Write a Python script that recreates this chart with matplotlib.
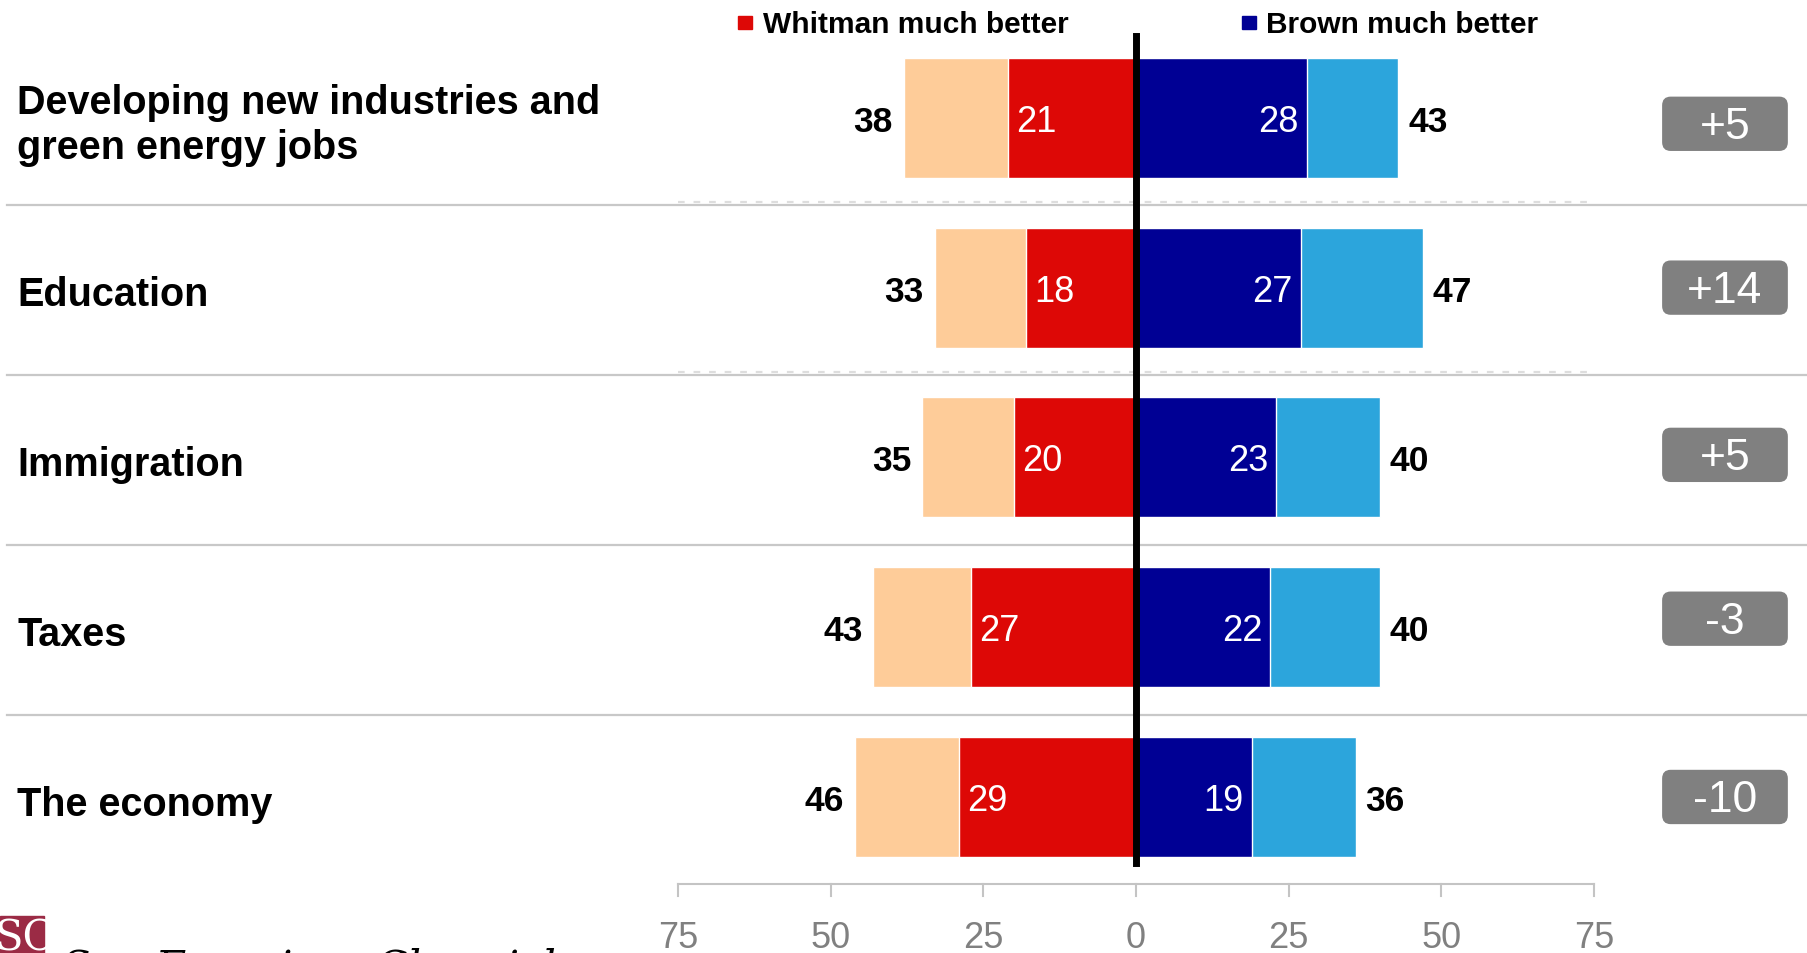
import matplotlib.pyplot as plt
from matplotlib.patches import FancyBboxPatch, Rectangle

plt.rcParams['font.family'] = ['Liberation Sans', 'DejaVu Sans']

# dados do grafico
categories = ['Developing new industries and\ngreen energy jobs', 'Education',
              'Immigration', 'Taxes', 'The economy']
whitman_much = [21, 18, 20, 27, 29]
whitman_total = [38, 33, 35, 43, 46]
brown_much = [28, 27, 23, 22, 19]
brown_total = [43, 47, 40, 40, 36]
net = ['+5', '+14', '+5', '-3', '-10']
ticks = [-75, -50, -25, 0, 25, 50, 75]

peach = '#FECC99'
red = '#DD0806'
navy = '#000094'
sky = '#2CA5DC'
grey_box = '#808080'

fig = plt.figure(figsize=(18.08, 9.54), dpi=100)
ax = fig.add_axes([0, 0, 1, 1])
ax.set_xlim(-186.1, 110.1)
ax.set_ylim(4.919, -0.70)
ax.axis('off')

y = list(range(len(categories)))
h = 0.706
box_shift = [0.035, 0.0, -0.015, -0.05, 0.0]
dy = 0.02  # pequeno ajuste vertical dos numeros

# separadores entre linhas
for i in range(len(categories) - 1):
    ax.plot([-185, 110.1], [i + 0.515, i + 0.515], color='#c8c8c8', lw=1.6, zorder=1)
    if i < 2:
        ax.plot([-75, 75], [i + 0.495, i + 0.495], color='#dddddd', lw=1.6,
                ls=(0, (3, 4)), zorder=1)

ax.barh(y, [-v for v in whitman_total], height=h, color=peach, edgecolor='white', lw=1, zorder=2)
ax.barh(y, [-v for v in whitman_much], height=h, color=red, edgecolor='white', lw=1, zorder=3)
ax.barh(y, brown_total, height=h, color=sky, edgecolor='white', lw=1, zorder=2)
ax.barh(y, brown_much, height=h, color=navy, edgecolor='white', lw=1, zorder=3)

for i in y:
    ax.text(-whitman_much[i] + 1.3, i + dy, str(whitman_much[i]), color='white', fontsize=26,
            ha='left', va='center', zorder=4)
    ax.text(brown_much[i] - 1.3, i + dy, str(brown_much[i]), color='white', fontsize=26,
            ha='right', va='center', zorder=4)
    ax.text(-whitman_total[i] - 1.8, i + dy, str(whitman_total[i]), color='black', fontsize=25.5,
            fontweight='bold', ha='right', va='center')
    ax.text(brown_total[i] + 1.6, i + dy, str(brown_total[i]), color='black', fontsize=25.5,
            fontweight='bold', ha='left', va='center')
    ax.text(-183.3, i + 0.04, categories[i], fontsize=28.5, fontweight='bold', ha='left',
            va='center', linespacing=1.25)
    by = i + box_shift[i]
    box = FancyBboxPatch((86.2, by - 0.16), 20.6, 0.32,
                         boxstyle='round,pad=0,rounding_size=1.4',
                         mutation_aspect=0.037, fc=grey_box, ec='none')
    ax.add_patch(box)
    ax.text(96.5, by + 0.015, net[i], color='white', fontsize=32, ha='center', va='center')

# linha do zero
ax.plot([0, 0], [-0.48, 4.39], color='black', lw=5, zorder=5)

# eixo inferior
ax.plot([-75, 75], [4.51, 4.51], color='#c4c4c4', lw=1.5)
for t in ticks:
    ax.plot([t, t], [4.51, 4.585], color='#c4c4c4', lw=1.5)
    ax.text(t, 4.83, str(abs(t)), color='#808080', fontsize=26, ha='center', va='center')

# legenda
ax.add_patch(Rectangle((-65.2, -0.60), 2.3, 0.075, color=red))
ax.text(-61.1, -0.555, 'Whitman much better', fontsize=21.5, fontweight='bold', va='center')
ax.add_patch(Rectangle((17.3, -0.60), 2.3, 0.075, color=navy))
ax.text(21.3, -0.555, 'Brown much better', fontsize=21.5, fontweight='bold', va='center')

# logo (cortado na borda, como no original)
fig.patches.append(Rectangle((0, 0), 44 / 1808, 37 / 954, transform=fig.transFigure,
                             color='#9B2B45'))
fig.text(-6 / 1808, -0.006, 'SC', color='white', fontsize=30, family='DejaVu Serif',
         ha='left', va='bottom')
fig.text(62 / 1808, 0.007, 'San Francisco Chronicle', color='black', fontsize=30,
         family='DejaVu Serif', style='italic', ha='left', va='top')

fig.savefig('out.png', dpi=100)
